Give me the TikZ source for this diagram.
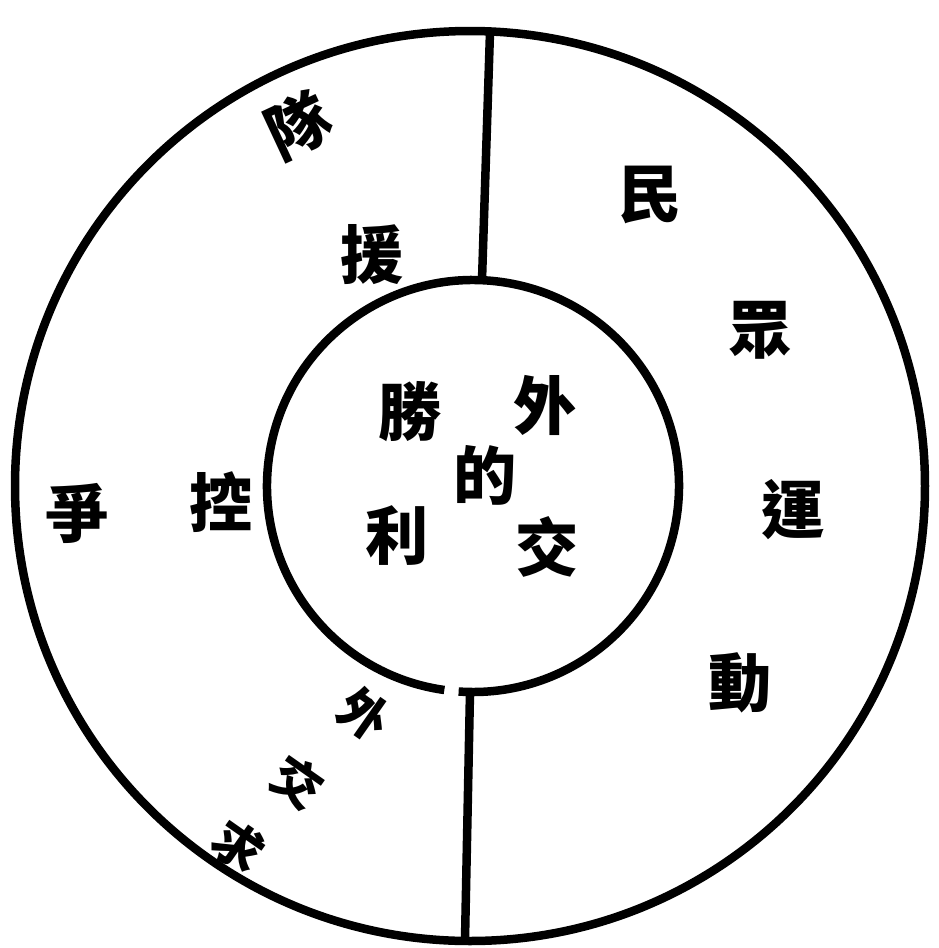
\documentclass[tikz,border=0pt]{standalone}
\usepackage{fontspec}
\newfontfamily\cjk{Noto Sans CJK TC}
\usepackage{tikz}
\usetikzlibrary{calc}

\begin{document}
\begin{tikzpicture}[x=0.02cm,y=-0.02cm,
  ring/.style={line width=0.17cm},
  zi/.style={font=\cjk\bfseries\fontsize{36}{36}\selectfont,inner sep=0pt},
  xiao/.style={zi,font=\cjk\bfseries\fontsize{28}{28}\selectfont,rotate=-35}]
\useasboundingbox (0,0) rectangle (938,948);
\coordinate (oc) at (470,486);
\coordinate (ic) at (473,486);
\draw[ring] (oc) circle[radius=455];
\draw[ring] ($(ic)+(98:206)$) arc[start angle=98,end angle=454,radius=206];
\coordinate (topout) at (490,32);
\coordinate (topin) at (482,280);
\coordinate (botin) at (470,692);
\coordinate (botout) at (465,940);
\draw[ring] (topout) -- (topin);
\draw[ring] (botin) -- (botout);
\node[zi] (wai) at (545,405) {外};
\node[zi] (jiao) at (547,547) {交};
\node[zi] (de) at (485,475) {的};
\node[zi] (sheng) at (410,412) {勝};
\node[zi] (li) at (397,536) {利};
\node[zi] (min) at (650,195) {民};
\node[zi] (zhong) at (760,330) {眾};
\node[zi] (yun) at (793,510) {運};
\node[zi] (dong) at (740,683) {動};
\node[zi,rotate=25] (dui) at (298,125) {隊};
\node[zi] (yuan) at (372,255) {援};
\node[zi] (kong) at (221,502) {控};
\node[zi] (zheng) at (77,513) {爭};
\node[xiao] (wai2) at (364,714) {外};
\node[xiao] (jiao2) at (298,782) {交};
\node[xiao] (qiu) at (238,846) {求};
\end{tikzpicture}
\end{document}
